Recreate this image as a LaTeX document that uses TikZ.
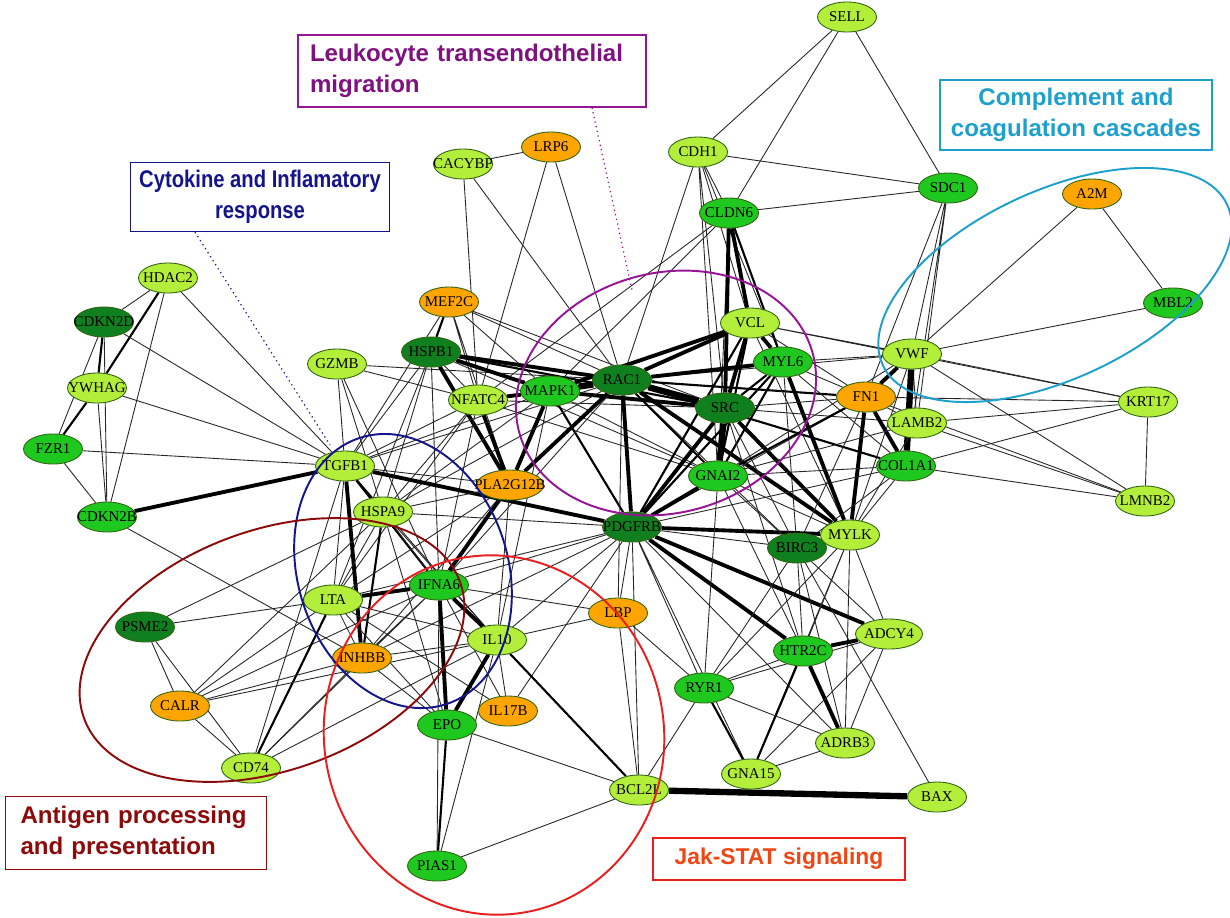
\documentclass[tikz,border=0pt]{standalone}
\usepackage{fontspec}
\setmainfont{Liberation Serif}
\setsansfont{Liberation Sans}
\usetikzlibrary{shapes.geometric,backgrounds}

\definecolor{lgreen}{RGB}{178,238,58}
\definecolor{mgreen}{RGB}{30,200,30}
\definecolor{dgreen}{RGB}{16,128,30}
\definecolor{gorange}{RGB}{255,165,0}
\definecolor{rimgreen}{RGB}{50,100,20}
\definecolor{hullpurple}{RGB}{150,20,150}
\definecolor{hullnavy}{RGB}{20,20,140}
\definecolor{hullbrown}{RGB}{140,10,10}
\definecolor{hullred}{RGB}{235,30,30}
\definecolor{hullcyan}{RGB}{30,160,205}
\definecolor{jaktext}{RGB}{240,70,20}
\newcommand{\gn}[1]{\makebox[0pt][c]{#1}}
\newcommand{\narrow}[1]{\scalebox{0.84}[1]{#1}}

\begin{document}
\begin{tikzpicture}[
    x=0.02cm, y=-0.02cm,
    gene/.style={ellipse, draw=rimgreen, line width=0.5pt, minimum width=1.18cm, minimum height=0.6cm, inner sep=0pt, font=\fontsize{8.5}{9}\selectfont},
    lg/.style={gene, fill=lgreen},
    mg/.style={gene, fill=mgreen},
    dg/.style={gene, fill=dgreen},
    og/.style={gene, fill=gorange},
    wide/.style={minimum width=1.34cm},
    lnk/.style={line width=0.5pt, black!85},
    lnkm/.style={line width=1.2pt},
    lnkt/.style={line width=2.2pt},
    lnkx/.style={line width=3.6pt},
    hull/.style={line width=1.1pt},
    tag/.style={draw, line width=0.7pt, inner sep=0.1cm, font=\sffamily\bfseries\fontsize{13.7}{17.5}\selectfont},
    lead/.style={dotted, line width=0.7pt}
  ]
  \useasboundingbox (0,0) rectangle (1230,917);

  % genes
  \node[lg] (sell) at (847,17) {\gn{SELL}};
  \node[lg] (cdh1) at (698,152) {\gn{CDH1}};
  \node[mg] (cldn6) at (729,213) {\gn{CLDN6}};
  \node[mg] (sdc1) at (948,188) {\gn{SDC1}};
  \node[lg] (cacybp) at (463,164) {\gn{CACYBP}};
  \node[og] (lrp6) at (551,147) {\gn{LRP6}};
  \node[og] (a2m) at (1092,194) {\gn{A2M}};
  \node[mg] (mbl2) at (1173,303) {\gn{MBL2}};
  \node[lg] (hdac2) at (168,278) {\gn{HDAC2}};
  \node[dg] (cdkn2d) at (104,322) {\gn{CDKN2D}};
  \node[lg] (ywhag) at (97,388) {\gn{YWHAG}};
  \node[mg] (fzr1) at (53,449) {\gn{FZR1}};
  \node[mg] (cdkn2b) at (107,517) {\gn{CDKN2B}};
  \node[lg] (gzmb) at (337,364) {\gn{GZMB}};
  \node[og] (mef2c) at (449,302) {\gn{MEF2C}};
  \node[dg] (hspb1) at (431,352) {\gn{HSPB1}};
  \node[lg] (nfatc4) at (478,400) {\gn{NFATC4}};
  \node[mg] (mapk1) at (550,391) {\gn{MAPK1}};
  \node[dg] (rac1) at (622,380) {\gn{RAC1}};
  \node[lg] (vcl) at (750,323) {\gn{VCL}};
  \node[mg] (myl6) at (783,362) {\gn{MYL6}};
  \node[dg] (src) at (725,408) {\gn{SRC}};
  \node[lg] (vwf) at (912,354) {\gn{VWF}};
  \node[og] (fn1) at (866,397) {\gn{FN1}};
  \node[lg] (lamb2) at (917,423) {\gn{LAMB2}};
  \node[mg] (col1a1) at (906,466) {\gn{COL1A1}};
  \node[lg] (krt17) at (1148,402) {\gn{KRT17}};
  \node[lg] (lmnb2) at (1145,501) {\gn{LMNB2}};
  \node[lg] (tgfb1) at (345,466) {\gn{TGFB1}};
  \node[lg] (hspa9) at (383,512) {\gn{HSPA9}};
  \node[og, wide] (pla2g12b) at (510,485) {\gn{PLA2G12B}};
  \node[dg] (pdgfrb) at (632,527) {\gn{PDGFRB}};
  \node[mg] (gnai2) at (718,476) {\gn{GNAI2}};
  \node[dg] (birc3) at (797,548) {\gn{BIRC3}};
  \node[lg] (mylk) at (850,535) {\gn{MYLK}};
  \node[mg] (ifna6) at (439,585) {\gn{IFNA6}};
  \node[lg] (lta) at (333,600) {\gn{LTA}};
  \node[og] (inhbb) at (362,658) {\gn{INHBB}};
  \node[lg] (il10) at (497,640) {\gn{IL10}};
  \node[og] (lbp) at (618,613) {\gn{LBP}};
  \node[dg] (psme2) at (145,627) {\gn{PSME2}};
  \node[og] (calr) at (180,706) {\gn{CALR}};
  \node[lg] (cd74) at (251,768) {\gn{CD74}};
  \node[mg] (epo) at (447,725) {\gn{EPO}};
  \node[og] (il17b) at (508,711) {\gn{IL17B}};
  \node[mg] (ryr1) at (704,688) {\gn{RYR1}};
  \node[mg] (htr2c) at (803,651) {\gn{HTR2C}};
  \node[lg, wide] (adcy4) at (889,634) {\gn{ADCY4}};
  \node[lg] (adrb3) at (845,743) {\gn{ADRB3}};
  \node[lg] (gna15) at (751,774) {\gn{GNA15}};
  \node[lg] (bcl2l) at (639,790) {\gn{BCL2L}};
  \node[lg] (bax) at (937,797) {\gn{BAX}};
  \node[mg] (pias1) at (437,866) {\gn{PIAS1}};

  % interactions
  \begin{scope}[on background layer]
    \fill[white] (0,0) rectangle (1230,917);
    \draw[lnk] (sell) -- (cdh1) (sell) -- (cldn6) (sell) -- (sdc1);
    \draw[lnk] (cdh1) -- (sdc1) (cdh1) -- (cldn6) (cdh1) -- (src) (cdh1) -- (rac1) (cdh1) -- (gnai2) (cdh1) -- (vcl) (cdh1) -- (myl6);
    \draw[lnk] (cldn6) -- (sdc1) (cldn6) -- (mapk1) (cldn6) -- (nfatc4) (cldn6) -- (gnai2);
    \draw[lnkt] (cldn6) -- (vcl) (cldn6) -- (src);
    \draw[lnkm] (cldn6) -- (myl6);
    \draw[lnk] (sdc1) -- (vwf) (sdc1) -- (lamb2) (sdc1) -- (col1a1) (sdc1) -- (fn1);
    \draw[lnk] (cacybp) -- (lrp6) (cacybp) -- (nfatc4) (cacybp) -- (rac1);
    \draw[lnk] (lrp6) -- (nfatc4) (lrp6) -- (rac1);
    \draw[lnk] (a2m) -- (vwf) (a2m) -- (mbl2) (mbl2) -- (vwf);
    \draw[lnk] (hdac2) -- (cdkn2d) (hdac2) -- (cdkn2b) (hdac2) -- (tgfb1);
    \draw[lnkm] (hdac2) -- (ywhag);
    \draw[lnk] (cdkn2d) -- (fzr1) (cdkn2d) -- (cdkn2b) (cdkn2d) -- (tgfb1);
    \draw[lnkm] (cdkn2d) -- (ywhag);
    \draw[lnk] (ywhag) -- (cdkn2b) (ywhag) -- (tgfb1);
    \draw[lnkm] (ywhag) -- (fzr1);
    \draw[lnk] (fzr1) -- (tgfb1) (fzr1) -- (cdkn2b);
    \draw[lnk] (cdkn2b) -- (inhbb);
    \draw[lnkt] (cdkn2b) -- (tgfb1);
    \draw[lnk] (gzmb) -- (tgfb1) (gzmb) -- (hspa9) (gzmb) -- (rac1) (gzmb) -- (nfatc4) (gzmb) -- (ifna6);
    \draw[lnk] (mef2c) -- (nfatc4) (mef2c) -- (pla2g12b) (mef2c) -- (rac1) (mef2c) -- (tgfb1) (mef2c) -- (mapk1) (mef2c) -- (src);
    \draw[lnkm] (mef2c) -- (hspb1);
    \draw[lnk] (hspb1) -- (nfatc4) (hspb1) -- (tgfb1) (hspb1) -- (hspa9) (hspb1) -- (lta) (hspb1) -- (gnai2) (hspb1) -- (ifna6);
    \draw[lnkm] (hspb1) -- (src);
    \draw[lnkt] (hspb1) -- (rac1) (hspb1) -- (mapk1) (hspb1) -- (pla2g12b);
    \draw[lnk] (nfatc4) -- (tgfb1) (nfatc4) -- (hspa9) (nfatc4) -- (lta) (nfatc4) -- (src) (nfatc4) -- (ifna6) (nfatc4) -- (gnai2);
    \draw[lnkm] (nfatc4) -- (rac1);
    \draw[lnkt] (nfatc4) -- (mapk1) (nfatc4) -- (pla2g12b);
    \draw[lnk] (mapk1) -- (tgfb1) (mapk1) -- (hspa9) (mapk1) -- (gnai2) (mapk1) -- (il10);
    \draw[lnkm] (mapk1) -- (pdgfrb);
    \draw[lnkt] (mapk1) -- (pla2g12b) (mapk1) -- (src) (mapk1) -- (vcl);
    \draw[lnkx] (mapk1) -- (rac1);
    \draw[lnk] (rac1) -- (vwf) (rac1) -- (birc3) (rac1) -- (tgfb1) (rac1) -- (hspa9) (rac1) -- (ifna6) (rac1) -- (lbp);
    \draw[lnkm] (rac1) -- (gnai2) (rac1) -- (col1a1) (rac1) -- (fn1);
    \draw[lnkt] (rac1) -- (pla2g12b) (rac1) -- (pdgfrb) (rac1) -- (vcl) (rac1) -- (myl6) (rac1) -- (mylk);
    \draw[lnkx] (rac1) -- (src);
    \draw[lnk] (vcl) -- (fn1) (vcl) -- (krt17) (vcl) -- (mylk) (vcl) -- (vwf);
    \draw[lnkm] (vcl) -- (gnai2) (vcl) -- (pdgfrb);
    \draw[lnkt] (vcl) -- (src) (vcl) -- (myl6);
    \draw[lnk] (myl6) -- (fn1) (myl6) -- (vwf) (myl6) -- (col1a1) (myl6) -- (birc3);
    \draw[lnkm] (myl6) -- (src) (myl6) -- (gnai2) (myl6) -- (pdgfrb);
    \draw[lnkt] (myl6) -- (mylk);
    \draw[lnk] (src) -- (fn1) (src) -- (birc3) (src) -- (lamb2) (src) -- (htr2c);
    \draw[lnkt] (src) -- (pdgfrb) (src) -- (mylk);
    \draw[lnkx] (src) -- (gnai2);
    \draw[lnk] (fn1) -- (lamb2) (fn1) -- (pdgfrb) (fn1) -- (krt17) (fn1) -- (birc3) (fn1) -- (lmnb2);
    \draw[lnkm] (fn1) -- (gnai2);
    \draw[lnkt] (fn1) -- (vwf) (fn1) -- (col1a1) (fn1) -- (mylk);
    \draw[lnk] (vwf) -- (lamb2) (vwf) -- (krt17) (vwf) -- (lmnb2) (vwf) -- (mylk) (vwf) -- (gnai2);
    \draw[lnkx] (vwf) -- (col1a1);
    \draw[lnk] (krt17) -- (lmnb2) (krt17) -- (lamb2) (krt17) -- (col1a1);
    \draw[lnk] (lmnb2) -- (lamb2) (lmnb2) -- (col1a1);
    \draw[lnk] (col1a1) -- (mylk) (col1a1) -- (pdgfrb) (col1a1) -- (gnai2) (col1a1) -- (birc3);
    \draw[lnk] (lamb2) -- (mylk) (lamb2) -- (gnai2);
    \draw[lnk] (pdgfrb) -- (birc3) (pdgfrb) -- (ryr1) (pdgfrb) -- (lbp) (pdgfrb) -- (gna15) (pdgfrb) -- (adrb3) (pdgfrb) -- (hspa9) (pdgfrb) -- (ifna6) (pdgfrb) -- (lta) (pdgfrb) -- (il10) (pdgfrb) -- (inhbb) (pdgfrb) -- (bcl2l) (pdgfrb) -- (il17b);
    \draw[lnkt] (pdgfrb) -- (mylk) (pdgfrb) -- (gnai2) (pdgfrb) -- (adcy4) (pdgfrb) -- (htr2c) (pdgfrb) -- (tgfb1);
    \draw[lnk] (gnai2) -- (mylk) (gnai2) -- (birc3) (gnai2) -- (htr2c) (gnai2) -- (ryr1);
    \draw[lnk] (birc3) -- (htr2c) (birc3) -- (adcy4) (birc3) -- (ryr1) (birc3) -- (bax) (birc3) -- (adrb3);
    \draw[lnk] (mylk) -- (adcy4) (mylk) -- (adrb3) (mylk) -- (htr2c) (mylk) -- (ryr1) (mylk) -- (gna15);
    \draw[lnk] (htr2c) -- (ryr1);
    \draw[lnkm] (htr2c) -- (gna15);
    \draw[lnkt] (htr2c) -- (adcy4) (htr2c) -- (adrb3);
    \draw[lnk] (ryr1) -- (adrb3) (ryr1) -- (bcl2l) (ryr1) -- (adcy4) (ryr1) -- (lbp);
    \draw[lnkm] (ryr1) -- (gna15);
    \draw[lnk] (adcy4) -- (gna15) (adcy4) -- (adrb3) (gna15) -- (adrb3);
    \draw[lnkx] (bcl2l) -- (bax);
    \draw[lnk] (tgfb1) -- (lta) (tgfb1) -- (il10) (tgfb1) -- (pla2g12b) (tgfb1) -- (cd74);
    \draw[lnkm] (tgfb1) -- (hspa9) (tgfb1) -- (ifna6);
    \draw[lnkt] (tgfb1) -- (inhbb);
    \draw[lnk] (hspa9) -- (lta) (hspa9) -- (ifna6) (hspa9) -- (il10) (hspa9) -- (epo) (hspa9) -- (psme2) (hspa9) -- (calr) (hspa9) -- (pla2g12b);
    \draw[lnkm] (hspa9) -- (inhbb);
    \draw[lnk] (pla2g12b) -- (lta) (pla2g12b) -- (inhbb) (pla2g12b) -- (il10);
    \draw[lnkt] (pla2g12b) -- (ifna6);
    \draw[lnk] (ifna6) -- (lbp) (ifna6) -- (pias1) (ifna6) -- (inhbb) (ifna6) -- (il17b) (ifna6) -- (calr) (ifna6) -- (cd74);
    \draw[lnkt] (ifna6) -- (epo) (ifna6) -- (il10) (ifna6) -- (lta);
    \draw[lnk] (lta) -- (il10) (lta) -- (epo) (lta) -- (inhbb) (lta) -- (psme2) (lta) -- (calr) (lta) -- (il17b);
    \draw[lnkm] (lta) -- (cd74);
    \draw[lnk] (inhbb) -- (il10) (inhbb) -- (epo) (inhbb) -- (cd74) (inhbb) -- (calr);
    \draw[lnk] (il10) -- (il17b) (il10) -- (pias1) (il10) -- (lbp) (il10) -- (calr) (il10) -- (cd74);
    \draw[lnkm] (il10) -- (bcl2l);
    \draw[lnkt] (il10) -- (epo);
    \draw[lnk] (epo) -- (bcl2l) (pias1) -- (bcl2l) (lbp) -- (bcl2l);
    \draw[lnkm] (epo) -- (pias1);
    \draw[lnk] (psme2) -- (calr) (psme2) -- (cd74) (calr) -- (cd74);
  \end{scope}

  % pathway hulls
  \draw[hull, hullpurple, rotate around={15:(666,393)}] (666,393) ellipse [x radius=3.04cm, y radius=2.4cm];
  \draw[hull, hullnavy, rotate around={18:(403,571)}] (403,571) ellipse [x radius=2.1cm, y radius=2.8cm];
  \draw[hull, hullbrown, rotate around={20:(272,650)}] (272,650) ellipse [x radius=4cm, y radius=2.4cm];
  \draw[hull, hullred, rotate around={10:(494,735)}] (494,735) ellipse [x radius=3.4cm, y radius=3.6cm];
  \draw[hull, hullcyan, rotate around={25:(1055,285)}] (1055,285) ellipse [x radius=3.8cm, y radius=1.88cm];

  % pathway tags
  \node[tag, hullnavy, text=hullnavy, minimum width=5.18cm, minimum height=1.38cm, align=center] (cytotag) at (260,197) {\narrow{Cytokine and Inflamatory}\\\narrow{response}};
  \node[tag, hullpurple, text=hullpurple!85!black, inner xsep=0.24cm, minimum width=6.96cm, minimum height=1.44cm, text width=6.48cm, align=left] (leukotag) at (472,71) {Leukocyte transendothelial\\migration};
  \node[tag, hullcyan, text=hullcyan, minimum width=5.44cm, minimum height=1.4cm, align=center] (compltag) at (1076,115) {Complement and\\coagulation cascades};
  \node[tag, hullbrown, text=hullbrown, inner xsep=0.3cm, minimum width=5.22cm, minimum height=1.46cm, text width=4.62cm, align=left] (antitag) at (136,833) {Antigen processing\\and presentation};
  \node[tag, hullred, text=jaktext, font=\sffamily\bfseries\fontsize{13}{17}\selectfont, minimum width=5.04cm, minimum height=0.84cm, align=center] (jaktag) at (779,859) {Jak-STAT signaling};

  \coordinate (cytoend) at (330,445);
  \coordinate (leukoend) at (632,290);
  \draw[lead, hullnavy] (cytotag.south) ++(-1.3cm,0) -- (cytoend);
  \draw[lead, hullpurple] (leukotag.south) ++(2.4cm,0) -- (leukoend);
\end{tikzpicture}
\end{document}
